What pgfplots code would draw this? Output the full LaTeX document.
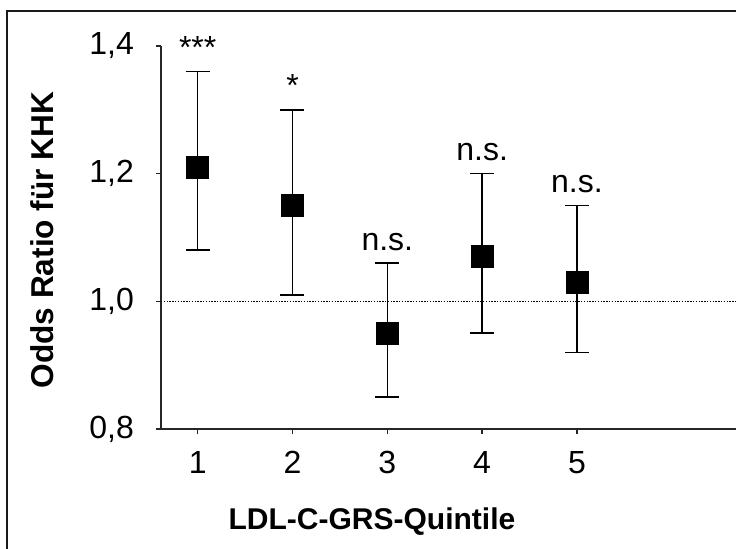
\documentclass[border=0pt]{standalone}
\usepackage{fontspec}
\setmainfont{Liberation Sans}
\usepackage{pgfplots}
\pgfplotsset{compat=1.18}
\begin{document}
\begin{tikzpicture}
\begin{axis}[
  at={(80.5pt,59.5pt)}, anchor=south west,
  scale only axis,
  width=289.5pt, height=191.5pt,
  xmin=0.613, xmax=6.72,
  ymin=0.8, ymax=1.4,
  clip=false,
  axis x line=bottom, axis y line=left,
  axis line style={-, line width=1pt, color=black!85},
  xtick={1,2,3,4,5},
  ytick={0.8,1.0,1.2,1.4},
  tick align=outside,
  major tick length=2.5pt,
  tick style={line width=0.8pt, color=black!85},
  /pgf/number format/assume math mode=true,
  yticklabel style={/pgf/number format/fixed, /pgf/number format/fixed zerofill, /pgf/number format/precision=1, /pgf/number format/use comma, xshift=-7.5pt},
  ticklabel style={font=\fontsize{16}{19}\selectfont},
  xticklabel style={yshift=-5pt},
  xlabel={LDL-C-GRS-Quintile},
  ylabel={Odds Ratio für KHK},
  label style={font=\bfseries\fontsize{15}{18}\selectfont},
  xlabel style={at={(rel axis cs:0.3644,0)}, anchor=center, yshift=-46.5pt},
  ylabel style={at={(rel axis cs:0,0.4935)}, anchor=center, yshift=59.5pt, font=\bfseries\fontsize{15.8}{18}\selectfont},
]
% reference line at 1.0
\addplot[black, line width=0.7pt, dash pattern=on 0.7pt off 0.7pt] coordinates {(0.613,1.0) (6.72,1.0)};
% odds ratios with confidence intervals
\addplot[only marks, mark=square*, mark size=5.5pt, black,
  error bars/.cd, y dir=both, y explicit,
  error bar style={line width=0.8pt, black},
  error mark options={rotate=90, mark size=6pt, line width=0.8pt, black}]
coordinates {
  (1,1.21) += (0,0.15) -= (0,0.13)
  (2,1.15) += (0,0.15) -= (0,0.14)
  (3,0.95) += (0,0.11) -= (0,0.10)
  (4,1.07) += (0,0.13) -= (0,0.12)
  (5,1.03) += (0,0.12) -= (0,0.11)
};
% significance annotations
\addplot[draw=none, mark=none, nodes near coords, point meta=explicit symbolic,
  every node near coord/.style={anchor=base, yshift=6.5pt, inner sep=0pt, font=\fontsize{16}{19}\selectfont}]
coordinates {
  (1,1.36) [***]
  (2,1.30) [*]
  (3,1.06) [n.s.]
  (4,1.20) [n.s.]
  (5,1.15) [n.s.]
};
\end{axis}
\draw[line width=1pt, black!90] (3.5pt,-5pt) -- (3.5pt,268.5pt) -- (380pt,268.5pt);
\pgfresetboundingbox
\path (0,0) rectangle (368pt,274pt);
\end{tikzpicture}
\end{document}
